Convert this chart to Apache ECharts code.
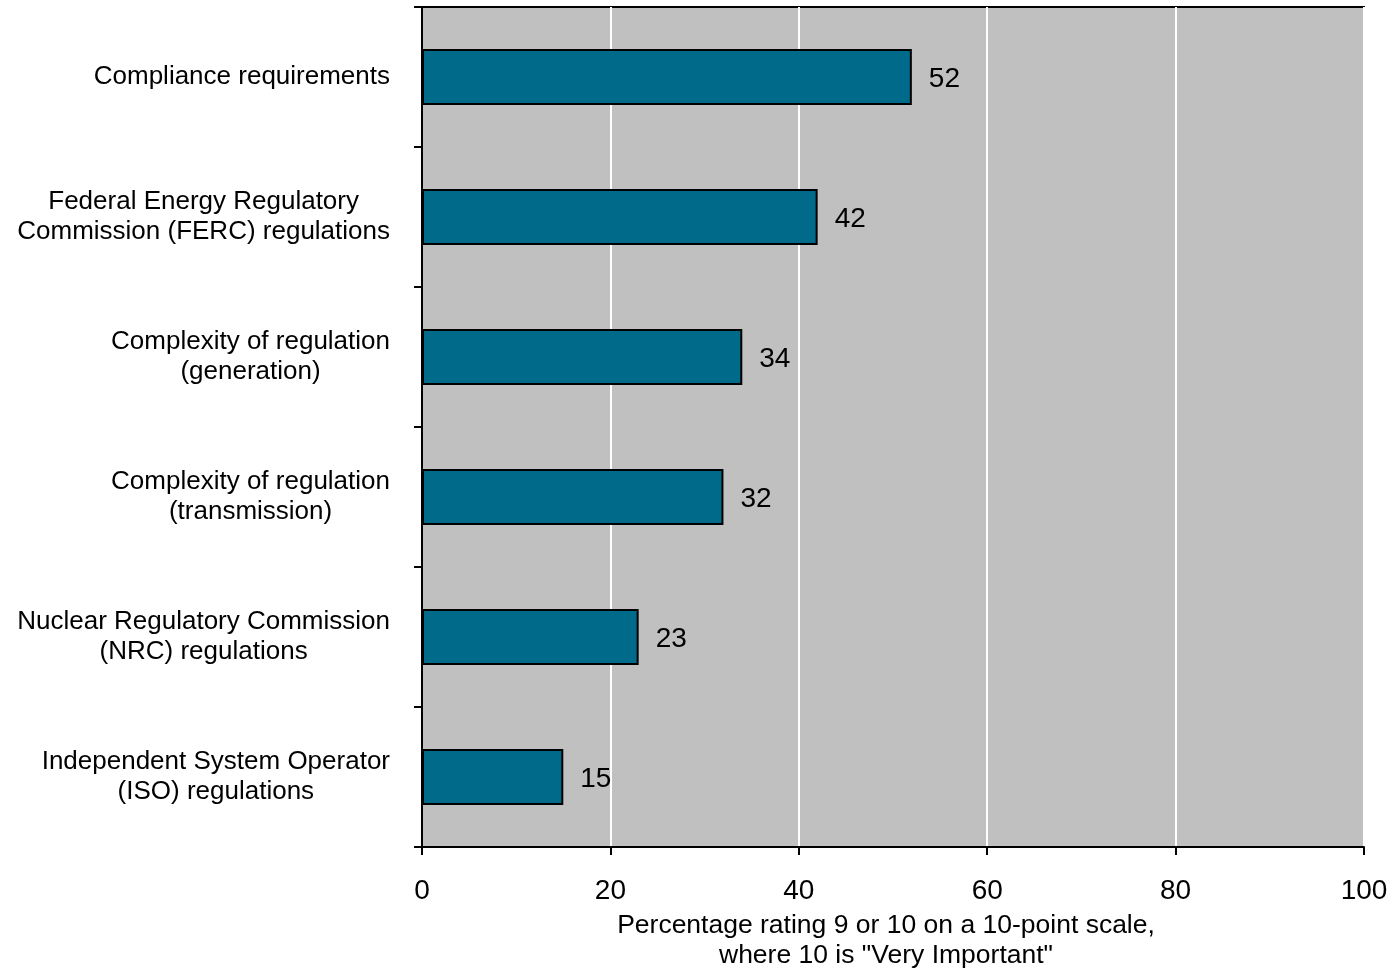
<!DOCTYPE html>
<html>
<head>
<meta charset="utf-8">
<script src="https://cdn.jsdelivr.net/npm/echarts@6/dist/echarts.min.js"></script>
<style>
html,body{margin:0;padding:0;background:#fff;}
#chart{width:1391px;height:970px;}
</style>
</head>
<body>
<div id="chart"></div>
<script>
var categories = [
  "Compliance requirements",
  "Federal Energy Regulatory\nCommission (FERC) regulations",
  "Complexity of regulation\n(generation)",
  "Complexity of regulation\n(transmission)",
  "Nuclear Regulatory Commission\n(NRC) regulations",
  "Independent System Operator\n(ISO) regulations"
];
var values = [52, 42, 34, 32, 23, 15];
var xTicks = [0, 20, 40, 60, 80, 100];
var xAxisTitle = "Percentage rating 9 or 10 on a 10-point scale,\nwhere 10 is \"Very Important\"";

var chart = echarts.init(document.getElementById('chart'));
var font = '"Liberation Sans", Arial, sans-serif';
chart.setOption({
  animation: false,
  grid: {
    left: 422, right: 27, top: 7, bottom: 123,
    outerBoundsMode: 'none', containLabel: false,
    show: true, backgroundColor: '#C0C0C0', borderColor: '#000', borderWidth: 2
  },
  xAxis: {
    type: 'value', min: xTicks[0], max: xTicks[xTicks.length - 1], interval: 20,
    axisLine: { show: true, lineStyle: { color: '#000', width: 2 } },
    axisTick: { show: true, length: 8, lineStyle: { color: '#000', width: 2 } },
    splitLine: { show: true, lineStyle: { color: '#fff', width: 2 } },
    axisLabel: { color: '#000', fontSize: 28, fontFamily: font, margin: 30 },
    name: xAxisTitle, nameLocation: 'middle', nameGap: 64,
    nameTextStyle: { color: '#000', fontSize: 26.5, fontFamily: font, lineHeight: 30, padding: [0, 14, 0, 0] }
  },
  yAxis: {
    type: 'category', data: categories, inverse: true,
    axisLine: { show: true, lineStyle: { color: '#000', width: 2 } },
    axisTick: { show: true, length: 8, lineStyle: { color: '#000', width: 2 } },
    axisLabel: {
      margin: 32,
      formatter: function (v) {
        return v.split('\n').map(function (l) { return '{c|' + l + '}'; }).join('\n');
      },
      rich: { c: { align: 'center', fontSize: 26, fontFamily: font, color: '#000', lineHeight: 30 } }
    }
  },
  series: [{
    type: 'bar', data: values, barWidth: 56,
    itemStyle: { color: '#006A8A', borderColor: '#000', borderWidth: 2 },
    label: { show: true, position: 'right', distance: 17, color: '#000', fontSize: 28, fontFamily: font, offset: [0, 2] }
  }]
});
</script>
</body>
</html>
